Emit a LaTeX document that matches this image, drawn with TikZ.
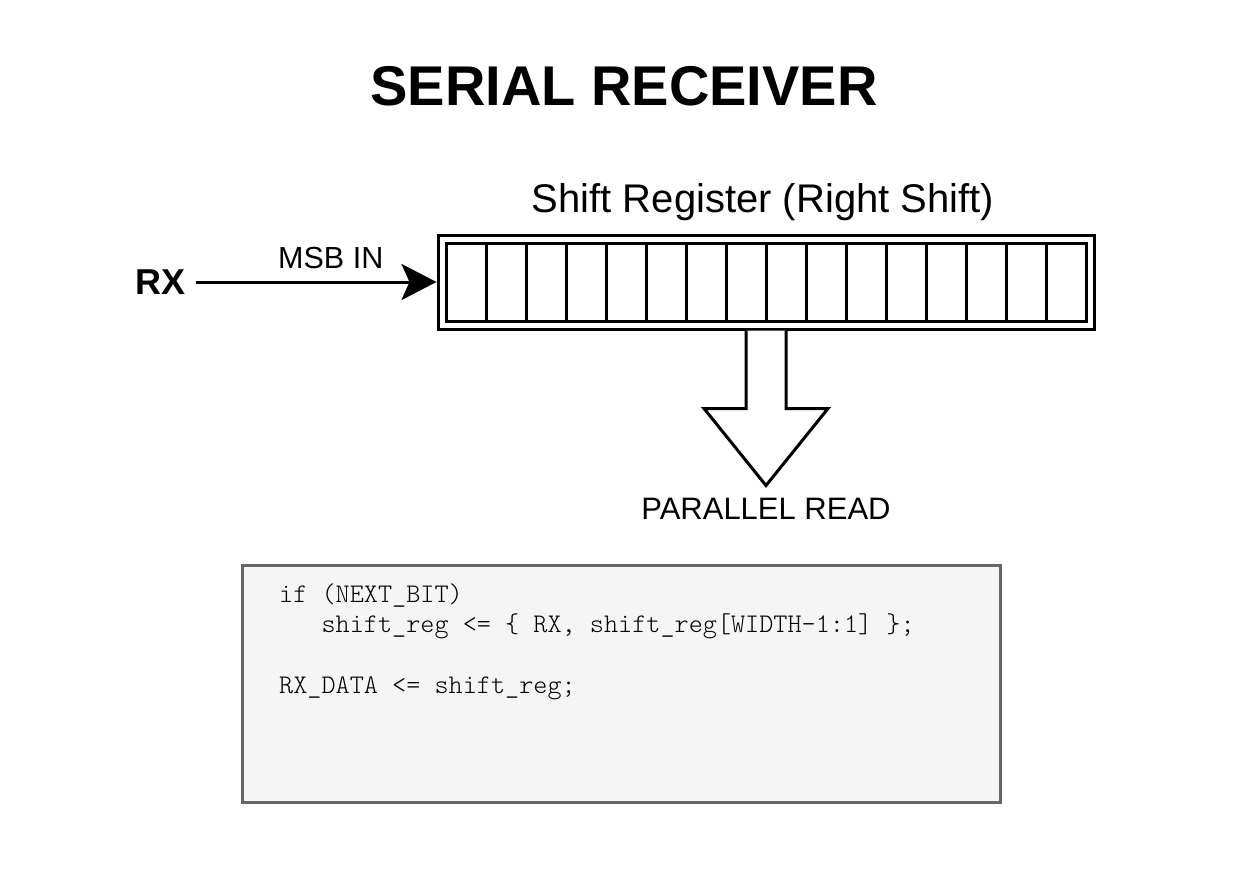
\documentclass[tikz,border=0pt]{standalone}
\usepackage{fontspec}
\setmainfont{Liberation Sans}
\setmonofont{Latin Modern Mono Light}
\usetikzlibrary{positioning,calc,fit,arrows.meta}
\definecolor{codefill}{HTML}{F5F5F5}
\definecolor{codeedge}{HTML}{666666}

\begin{document}
\begin{tikzpicture}[x=1pt,y=-1pt,
cell/.style={draw,line width=3pt,minimum width=40pt,minimum height=78pt,inner sep=0pt,outer sep=0pt},
lbl/.style={font=\fontsize{31}{36}\selectfont,inner sep=0pt},
code/.style={font=\ttfamily\fontsize{26.9}{30}\selectfont,anchor=base west,inner sep=0pt},
codebox/.style={draw=codeedge,fill=codefill,line width=3pt,minimum width=758pt,minimum height=237pt}]
\useasboundingbox (0,0) rectangle (1244,884);
\node[font=\bfseries\fontsize{56}{64}\selectfont,anchor=base] (title) at (624,105) {SERIAL RECEIVER};
% the sixteen cells and the frame round them
\node[cell] (c1) at (466,282) {};
\foreach \i [remember=\i as \j (initially 1)] in {2,...,16}
  \node[cell,right=0pt of c\j] (c\i) {};
\node[draw,line width=3pt,inner sep=8pt,fit=(c1)(c16)] (reg) {};
\node[font=\fontsize{40}{48}\selectfont,anchor=base,inner sep=0pt] (regname)
  at ([xshift=-3pt,yshift=21pt]reg.north) {Shift Register (Right Shift)};
\node[font=\bfseries\fontsize{36}{42}\selectfont,inner sep=10pt] (rx) at (161,282) {RX};
\draw[line width=3pt,-{Stealth[length=35pt,width=36pt,inset=8pt]}] (rx.east) -- (reg.west)
  node[lbl,pos=0.56,above=12pt,font=\fontsize{30.5}{36}\selectfont] (msb) {MSB IN};
\draw[line width=3pt,fill=white] (reg.south) ++(-20,0) -- ++(0,78) -- ++(-42,0)
  -- ++(62,77) coordinate (tip) -- ++(62,-77) -- ++(-42,0) -- ++(0,-78);
\node[lbl,below=12.5pt of tip] (par) {PARALLEL READ};
% code
\node[codebox] (codebg) at (621.5,684) {};
\node[code] (code1) at (279,602) {if (NEXT\_BIT)};
\node[code] (code2) at (279,632) {\phantom{xxx}shift\_reg <= \{ RX, shift\_reg[WIDTH-1:1] \};};
\node[code] (code3) at (279,693) {RX\_DATA <= shift\_reg;};
\end{tikzpicture}
\end{document}
